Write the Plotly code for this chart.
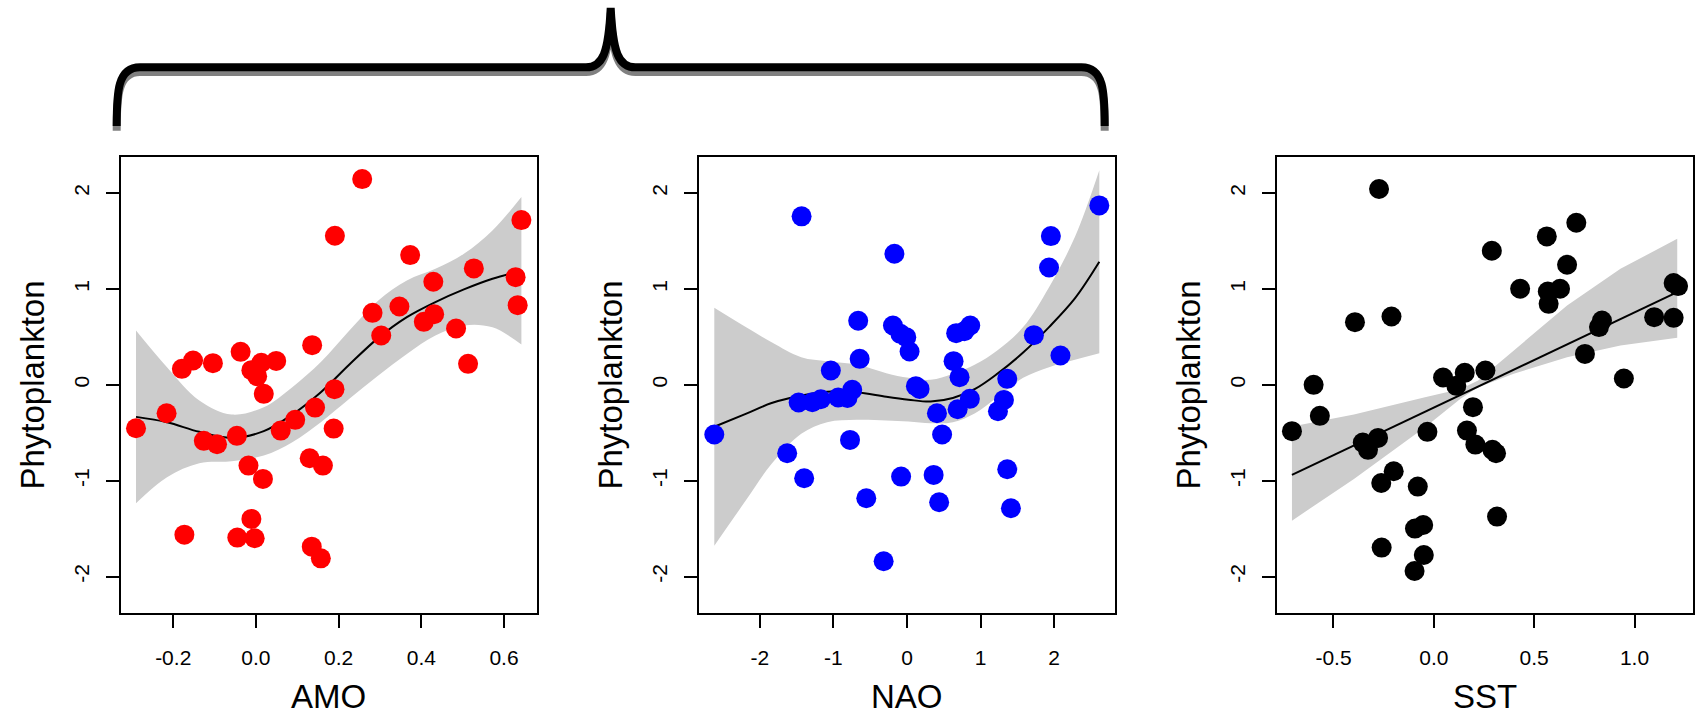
import plotly.graph_objects as go

W, H = 1696, 718

# ---------------- data ----------------
amo_x = [-0.290, -0.216, -0.179, -0.152, -0.104, -0.173, -0.126, -0.094, -0.037, -0.046,
         -0.018, -0.011, 0.003, 0.013, 0.049, 0.019, 0.017, -0.011, -0.045, -0.003,
         0.060, 0.095, 0.136, 0.143, 0.130, 0.162, 0.135, 0.157, 0.191, 0.190,
         0.188, 0.257, 0.282, 0.303, 0.347, 0.373, 0.406, 0.429, 0.431, 0.484,
         0.513, 0.527, 0.628, 0.633, 0.642]
amo_y = [-0.452, -0.296, 0.167, 0.254, 0.226, -1.562, -0.584, -0.619, 0.344, -0.532,
         -0.842, 0.153, 0.090, 0.230, 0.250, -0.094, -0.981, -1.398, -1.593, -1.600,
         -0.477, -0.365, 0.414, -0.237, -0.765, -0.842, -1.687, -1.809, 1.555, -0.045,
         -0.456, 2.146, 0.751, 0.515, 0.817, 1.353, 0.657, 1.075, 0.737, 0.588,
         0.219, 1.214, 1.123, 0.831, 1.718]
amo_fit_x = [-0.290, -0.215, -0.137, -0.059, 0.019, 0.088, 0.157, 0.226, 0.296, 0.365,
             0.434, 0.503, 0.572, 0.642]
amo_fit = [-0.334, -0.390, -0.490, -0.553, -0.483, -0.310, -0.077, 0.212, 0.490, 0.706,
           0.863, 0.995, 1.106, 1.190]
amo_upper = [0.567, 0.184, -0.163, -0.310, -0.233, -0.024, 0.237, 0.567, 0.880, 1.089,
             1.210, 1.367, 1.610, 1.958]
amo_lower = [-1.235, -0.963, -0.817, -0.797, -0.737, -0.598, -0.390, -0.146, 0.097, 0.323,
             0.515, 0.620, 0.600, 0.420]

nao_x = [-2.618, -1.432, -1.628, -1.397, -1.472, -1.286, -1.171, -1.035, -0.935, -0.809,
         -0.744, -0.774, -0.663, -0.643, -0.553, -0.317, -0.171, -0.191, -0.090, -0.010,
         0.035, -0.080, 0.121, 0.171, 0.407, 0.477, 0.362, 0.437, 0.633, 0.668,
         0.859, 0.714, 0.688, 0.854, 1.236, 1.317, 1.362, 1.362, 1.412, 1.724,
         1.930, 1.955, 2.085, 2.613, 0.780]
nao_y = [-0.518, 1.757, -0.713, -0.974, -0.184, -0.181, -0.150, 0.150, -0.132, -0.136,
         -0.052, -0.574, 0.668, 0.271, -1.183, -1.840, 1.367, 0.619, 0.532, 0.497,
         0.348, -0.957, -0.014, -0.042, -0.296, -0.518, -0.939, -1.224, 0.247, 0.539,
         0.619, 0.080, -0.254, -0.146, -0.275, -0.157, 0.063, -0.880, -1.287, 0.518,
         1.224, 1.551, 0.306, 1.871, 0.560]
nao_fit_x = [-2.618, -2.191, -1.839, -1.437, -1.085, -0.683, -0.281, 0.020, 0.322, 0.623,
             0.925, 1.226, 1.578, 1.930, 2.281, 2.613]
nao_fit = [-0.437, -0.303, -0.190, -0.111, -0.071, -0.077, -0.125, -0.155, -0.174, -0.137,
           -0.042, 0.115, 0.337, 0.602, 0.901, 1.283]
nao_upper = [0.803, 0.602, 0.445, 0.289, 0.247, 0.212, 0.122, 0.073, 0.052, 0.115,
             0.212, 0.358, 0.602, 1.019, 1.541, 2.237]
nao_lower = [-1.677, -1.207, -0.824, -0.511, -0.390, -0.365, -0.372, -0.383, -0.400, -0.390,
             -0.296, -0.129, 0.073, 0.184, 0.261, 0.330]

sst_x = [-0.707, -0.599, -0.568, -0.393, -0.354, -0.328, -0.278, -0.273, -0.262, -0.260,
         -0.211, -0.200, -0.080, -0.094, -0.053, -0.050, -0.096, -0.032, 0.046, 0.112,
         0.154, 0.257, 0.195, 0.165, 0.207, 0.292, 0.310, 0.315, 0.289, 0.430,
         0.563, 0.568, 0.572, 0.629, 0.664, 0.710, 0.753, 0.823, 0.838, 0.947,
         1.098, 1.195, 1.195, 1.217]
sst_y = [-0.483, 0.000, -0.323, 0.654, -0.602, -0.678, -0.553, 2.042, -1.023, -1.697,
         0.713, -0.901, -1.061, -1.499, -1.461, -1.774, -1.941, -0.490, 0.077, -0.010,
         0.125, 0.150, -0.233, -0.477, -0.623, -0.678, -0.713, -1.374, 1.398, 1.002,
         1.548, 0.974, 0.845, 1.002, 1.252, 1.690, 0.323, 0.602, 0.671, 0.066,
         0.706, 0.699, 1.061, 1.030]
sst_fit_x = [-0.707, 1.213]
sst_fit = [-0.939, 0.967]
sst_band_x = [-0.707, -0.398, -0.044, 0.133, 0.221, 0.398, 0.664, 0.930, 1.213]
sst_upper = [-0.435, -0.310, -0.129, -0.042, 0.045, 0.358, 0.828, 1.210, 1.523]
sst_lower = [-1.416, -0.981, -0.442, -0.146, -0.024, 0.115, 0.289, 0.410, 0.490]

x_titles = ["AMO", "NAO", "SST"]
y_title = "Phytoplankton"
colors = ["#FF0000", "#0000FF", "#000000"]
x_ranges = [[-0.327, 0.679], [-2.830, 2.822], [-0.783, 1.290]]
x_ticks = [[-0.2, 0.0, 0.2, 0.4, 0.6], [-2, -1, 0, 1, 2], [-0.5, 0.0, 0.5, 1.0]]
x_ticktext = [["-0.2", "0.0", "0.2", "0.4", "0.6"], ["-2", "-1", "0", "1", "2"],
              ["-0.5", "0.0", "0.5", "1.0"]]
y_ticks = [-2, -1, 0, 1, 2]
y_ticktext = ["-2", "-1", "0", "1", "2"]
y_range = [-2.376, 2.376]

panels = [
    (amo_x, amo_y, amo_fit_x, amo_fit, amo_fit_x, amo_upper, amo_lower, "spline"),
    (nao_x, nao_y, nao_fit_x, nao_fit, nao_fit_x, nao_upper, nao_lower, "spline"),
    (sst_x, sst_y, sst_fit_x, sst_fit, sst_band_x, sst_upper, sst_lower, "linear"),
]

# ---------------- layout geometry (pixels) ----------------
box_left = [120.7, 698.7, 1276.7]
box_w = 416.0
box_top, box_bot = 157.0, 612.7

FONT = "Liberation Sans, Arial, Helvetica, sans-serif"

fig = go.Figure()

for i, (px_, py_, fx, fy, bx, bu, bl, shp) in enumerate(panels):
    xa = "x" if i == 0 else f"x{i+1}"
    ya = "y" if i == 0 else f"y{i+1}"
    fig.add_trace(go.Scatter(x=bx, y=bl, xaxis=xa, yaxis=ya, mode="lines",
                             line=dict(width=0, color="#CCCCCC", shape=shp),
                             hoverinfo="skip", showlegend=False))
    fig.add_trace(go.Scatter(x=bx, y=bu, xaxis=xa, yaxis=ya, mode="lines",
                             line=dict(width=0, color="#CCCCCC", shape=shp),
                             fill="tonexty", fillcolor="#CCCCCC",
                             hoverinfo="skip", showlegend=False))
    fig.add_trace(go.Scatter(x=fx, y=fy, xaxis=xa, yaxis=ya, mode="lines",
                             line=dict(width=2, color="black", shape="spline"),
                             showlegend=False))
    fig.add_trace(go.Scatter(x=px_, y=py_, xaxis=xa, yaxis=ya, mode="markers",
                             marker=dict(size=20, color=colors[i], line=dict(width=0)),
                             showlegend=False))

layout = dict(
    width=W, height=H, margin=dict(l=0, r=0, t=0, b=0),
    paper_bgcolor="white", plot_bgcolor="white",
    font=dict(family=FONT, color="black"),
    showlegend=False,
)

for i in range(3):
    xk = "xaxis" if i == 0 else f"xaxis{i+1}"
    yk = "yaxis" if i == 0 else f"yaxis{i+1}"
    xa = "x" if i == 0 else f"x{i+1}"
    ya = "y" if i == 0 else f"y{i+1}"
    layout[xk] = dict(
        domain=[box_left[i] / W, (box_left[i] + box_w) / W], anchor=ya,
        range=x_ranges[i], tickvals=x_ticks[i], ticktext=x_ticktext[i],
        ticks="outside", ticklen=13, tickwidth=2, tickcolor="black",
        showline=True, linewidth=2, linecolor="black", mirror=True,
        showgrid=False, zeroline=False, tickfont=dict(size=21, family=FONT),
        ticklabelstandoff=12,
    )
    layout[yk] = dict(
        domain=[1 - box_bot / H, 1 - box_top / H], anchor=xa,
        range=y_range, tickvals=y_ticks, ticktext=y_ticktext,
        ticks="outside", ticklen=13, tickwidth=2, tickcolor="black",
        showline=True, linewidth=2, linecolor="black", mirror=True,
        showgrid=False, zeroline=False, tickfont=dict(size=21, family=FONT),
        tickangle=-90, ticklabelstandoff=8,
    )

annotations = []
for i in range(3):
    cx = box_left[i] + box_w / 2
    annotations.append(dict(text=x_titles[i], x=cx / W, y=1.0 / H, xref="paper", yref="paper",
                            showarrow=False, xanchor="center", yanchor="bottom",
                            font=dict(size=33, family=FONT, color="black")))
    annotations.append(dict(text=y_title, x=(box_left[i] - 88) / W, y=1 - 384.9 / H,
                            xref="paper", yref="paper", textangle=-90,
                            showarrow=False, xanchor="center", yanchor="middle",
                            font=dict(size=33, family=FONT, color="black")))
layout["annotations"] = annotations


# ---------------- curly brace decoration ----------------
def P(x, y):
    return f"{x / W:.6f},{1 - y / H:.6f}"


def brace_path(dy):
    pts = [
        ("M", [(116.7, 126 + dy)]),
        ("C", [(116.7, 92 + dy), (117.5, 67.3 + dy), (140, 67.3 + dy)]),
        ("L", [(586, 67.3 + dy)]),
        ("C", [(603, 67.3 + dy), (608.5, 52 + dy), (610.7, 8 + dy)]),
        ("C", [(612.9, 52 + dy), (618.4, 67.3 + dy), (635.4, 67.3 + dy)]),
        ("L", [(1081.4, 67.3 + dy)]),
        ("C", [(1103.9, 67.3 + dy), (1104.7, 92 + dy), (1104.7, 126 + dy)]),
    ]
    return " ".join(cmd + " " + " ".join(P(x, y) for x, y in coords) for cmd, coords in pts)


layout["shapes"] = [
    dict(type="path", path=brace_path(4.7), xref="paper", yref="paper",
         line=dict(color="#808080", width=8), layer="above"),
    dict(type="path", path=brace_path(0), xref="paper", yref="paper",
         line=dict(color="black", width=8), layer="above"),
]

fig.update_layout(**layout)
fig.write_html("out.html")
